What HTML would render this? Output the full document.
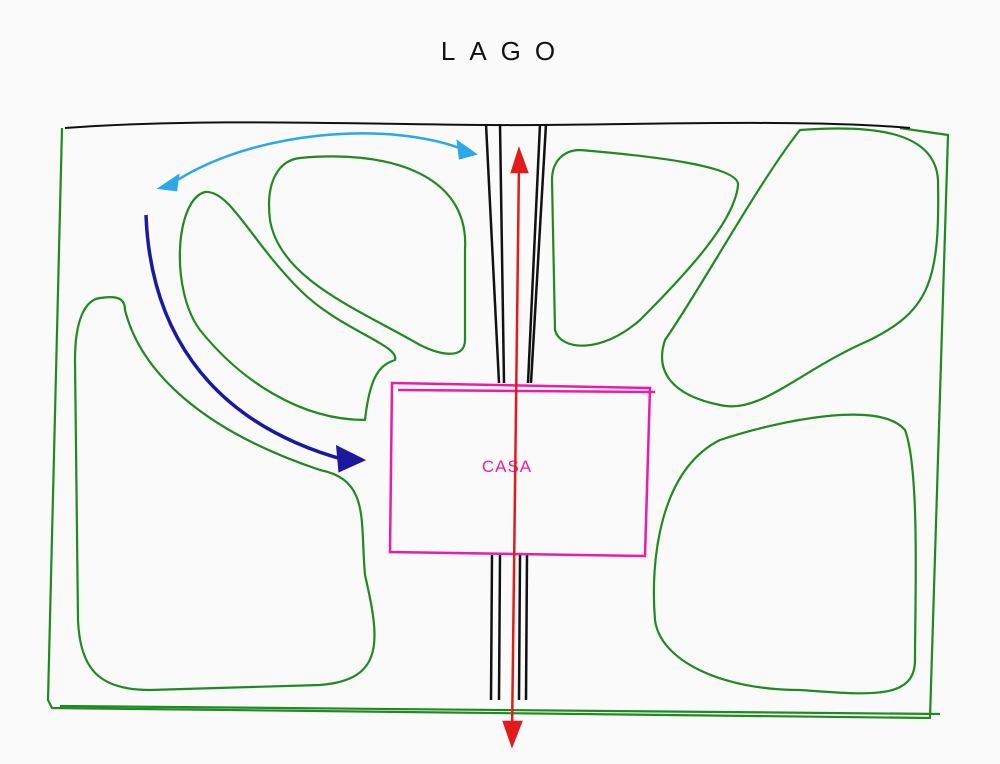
<!DOCTYPE html>
<html><head><meta charset="utf-8"><style>
html,body{margin:0;padding:0;background:#fafafa;}
svg{display:block}
</style></head><body>
<svg width="1000" height="764" viewBox="0 0 1000 764" xmlns="http://www.w3.org/2000/svg">
<rect width="1000" height="764" fill="#fafafa"/>
<text x="505" y="60" font-family="Liberation Sans, sans-serif" font-size="26" letter-spacing="14" text-anchor="middle" fill="#111">LAGO</text>
<g fill="none" stroke="#1f8a1f" stroke-width="2.2" stroke-linejoin="round">
<path d="M62,128 L48,700 L52,708 L930,718 L948,135 L900,128"/>
<path d="M60,706 L940,714"/>
<path d="M300,158 C380,150 470,170 465,250 L465,340 C465,360 440,355 420,345 C360,310 280,280 270,220 C265,180 280,160 300,158Z"/>
<path d="M205,192 C230,190 250,240 300,290 C340,330 400,345 395,360 C380,365 370,375 365,420 C300,420 240,380 200,330 C170,290 175,200 205,192Z"/>
<path d="M100,298 C120,295 125,300 125,310 C140,370 200,430 320,470 C370,480 360,520 365,575 C380,640 385,680 320,685 L150,690 C100,690 80,670 78,620 L75,360 C75,320 85,300 100,298Z"/>
<path d="M580,150 C640,155 740,165 738,185 C735,220 690,270 640,320 C600,355 560,350 555,330 L552,180 C552,160 565,150 580,150Z"/>
<path d="M800,130 C870,125 935,130 938,180 C940,280 930,310 870,340 C800,370 760,415 720,405 C670,395 655,370 665,340 C700,290 760,180 800,130Z"/>
<path d="M720,440 C780,420 880,400 905,430 C920,470 915,600 915,660 C915,700 870,695 800,690 C720,690 660,660 655,620 C650,560 660,470 720,440Z"/>
</g>
<path d="M65,128 C200,118 350,124 487,125 C600,126 800,118 910,128" fill="none" stroke="#111" stroke-width="2"/>
<g stroke="#111" stroke-width="2.5" fill="none">
<path d="M486,124 L499,383"/><path d="M500,124 L504,383"/>
<path d="M546,124 L531,383"/><path d="M540,124 L528,383"/>
<path d="M492,555 L491,700"/><path d="M500,555 L499,700"/>
<path d="M527,555 L526,700"/><path d="M520,555 L519,700"/>
</g>
<g fill="none" stroke="#ee1ba8" stroke-width="2.5">
<path d="M392,383 L650,388 L645,556 L390,552Z"/>
<path d="M398,390 L655,392"/>
</g>
<text x="507" y="472" font-family="Liberation Sans, sans-serif" font-size="17" fill="#ee1ba8" text-anchor="middle" letter-spacing="1">CASA</text>
<g stroke="#e31a1a" stroke-width="2.5" fill="#e31a1a">
<path d="M519,162 L512,735" fill="none"/>
<path d="M519,150 L512,172 L527,172Z"/>
<path d="M512,745 L504,722 L521,722Z"/>
</g>
<g stroke="#2aa8e8" stroke-width="2.5" fill="#2aa8e8">
<path d="M170,185 C250,130 390,120 465,150" fill="none"/>
<path d="M160,188 L178,176 L176,190Z"/>
<path d="M475,154 L458,142 L460,158Z"/>
</g>
<g stroke="#1a1aa0" stroke-width="3.5" fill="#1a1aa0">
<path d="M146,215 C150,320 200,420 345,460" fill="none"/>
<path d="M362,460 L338,448 L340,470Z"/>
</g>
</svg>
</body></html>
